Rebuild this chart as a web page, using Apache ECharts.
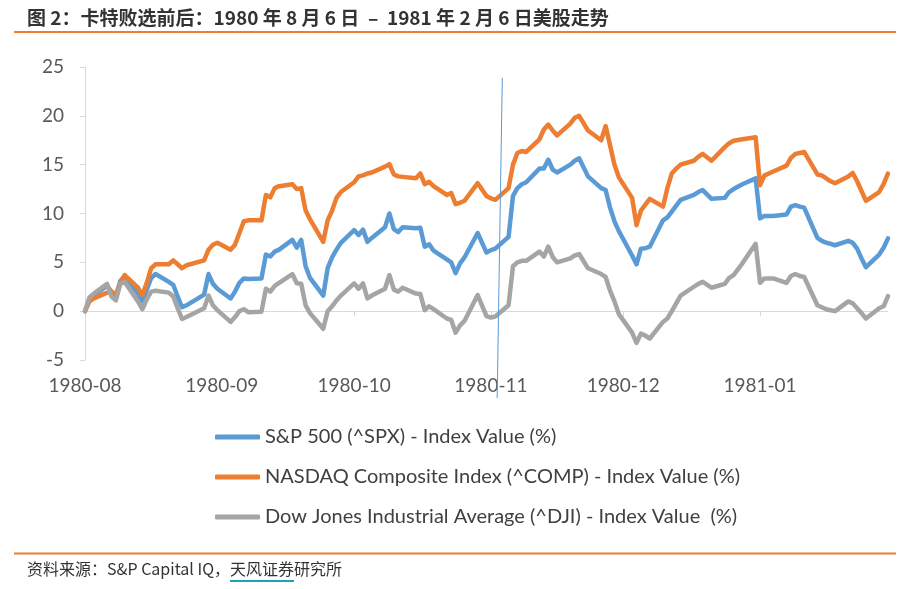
<!DOCTYPE html>
<html>
<head>
<meta charset="utf-8">
<script src="https://cdn.jsdelivr.net/npm/echarts@6/dist/echarts.min.js"></script>
<style>
html,body{margin:0;padding:0;background:#ffffff;}
#chart{width:903px;height:589px;}
</style>
</head>
<body>
<div id="chart"></div>
<script>
// ---- data (trading days, % change vs 1980-08-06) ----
const dates = [
  '1980-08-06','1980-08-07','1980-08-08','1980-08-11','1980-08-12','1980-08-13','1980-08-14','1980-08-15',
  '1980-08-18','1980-08-19','1980-08-20','1980-08-21','1980-08-22','1980-08-25','1980-08-26','1980-08-27',
  '1980-08-28','1980-08-29',
  '1980-09-02','1980-09-03','1980-09-04','1980-09-05','1980-09-08','1980-09-09','1980-09-10','1980-09-11',
  '1980-09-12','1980-09-15','1980-09-16','1980-09-17','1980-09-18','1980-09-19','1980-09-22','1980-09-23',
  '1980-09-24','1980-09-25','1980-09-26','1980-09-29','1980-09-30',
  '1980-10-01','1980-10-02','1980-10-03','1980-10-06','1980-10-07','1980-10-08','1980-10-09','1980-10-10',
  '1980-10-13','1980-10-14','1980-10-15','1980-10-16','1980-10-17','1980-10-20','1980-10-21','1980-10-22',
  '1980-10-23','1980-10-24','1980-10-27','1980-10-28','1980-10-29','1980-10-30','1980-10-31',
  '1980-11-03','1980-11-05','1980-11-06','1980-11-07','1980-11-10','1980-11-11','1980-11-12','1980-11-13',
  '1980-11-14','1980-11-17','1980-11-18','1980-11-19','1980-11-20','1980-11-21','1980-11-24','1980-11-25',
  '1980-11-26','1980-11-28',
  '1980-12-01','1980-12-02','1980-12-03','1980-12-04','1980-12-05','1980-12-08','1980-12-09','1980-12-10',
  '1980-12-11','1980-12-12','1980-12-15','1980-12-16','1980-12-17','1980-12-18','1980-12-19','1980-12-22',
  '1980-12-23','1980-12-24','1980-12-26','1980-12-29','1980-12-30','1980-12-31',
  '1981-01-02','1981-01-05','1981-01-06','1981-01-07','1981-01-08','1981-01-09','1981-01-12','1981-01-13',
  '1981-01-14','1981-01-15','1981-01-16','1981-01-19','1981-01-20','1981-01-21','1981-01-22','1981-01-23',
  '1981-01-26','1981-01-27','1981-01-28','1981-01-29','1981-01-30',
  '1981-02-02','1981-02-03','1981-02-04'
];

const spx = [
  0, 1.2, 1.6, 2.6, 2.0, 1.4, 3.1, 3.6, 1.8, 1.0, 2.2, 3.4, 3.8, 3.0, 2.7, 1.5, 0.4, 0.6,
  1.7, 3.8, 2.8, 2.3, 1.3, 2.0, 2.9, 3.35, 3.3, 3.35, 5.8, 5.6, 6.1, 6.3, 7.3, 6.5, 7.3, 4.6, 3.4, 1.6, 4.4,
  5.5, 6.3, 7.0, 8.3, 7.8, 8.35, 7.1, 7.5, 8.6, 10.0, 8.4, 8.1, 8.6, 8.5, 8.55, 6.6, 6.85, 6.2, 5.3, 5.0, 3.9, 4.9, 5.5,
  8.0, 6.0, 6.25, 6.4, 7.6, 11.8, 12.6, 13.0, 13.2, 14.6, 14.6, 15.5, 14.5, 14.2, 15.0, 15.4, 15.65, 13.8,
  12.6, 12.4, 10.6, 9.2, 8.2, 5.7, 4.8, 6.4, 6.45, 6.6, 9.3, 9.6, 10.2, 10.8, 11.4, 11.9, 12.2, 12.4, 11.5, 11.6, 12.2, 12.5,
  13.0, 13.6, 9.5, 9.75, 9.75, 9.75, 9.9, 10.7, 10.85, 10.7, 10.6, 7.5, 7.2, 7.0, 6.9, 6.75, 7.2, 7.0, 6.4, 5.4, 4.5,
  5.8, 6.5, 7.45
];

const comp = [
  0, 1.0, 1.3, 1.9, 2.0, 1.7, 2.9, 3.7, 2.4, 1.65, 2.9, 4.4, 4.8, 4.8, 5.2, 4.8, 4.4, 4.7,
  5.2, 6.3, 6.8, 7.0, 6.3, 6.8, 8.0, 9.2, 9.3, 9.3, 11.9, 11.65, 12.6, 12.8, 13.0, 12.5, 12.6, 10.3, 9.4, 7.1, 9.3,
  10.3, 11.6, 12.2, 13.2, 13.8, 13.9, 14.1, 14.2, 14.8, 15.05, 14.0, 13.8, 13.75, 13.6, 14.1, 13.0, 13.25, 12.8, 11.9, 12.1, 10.95, 11.1, 11.3,
  13.1, 11.8, 11.55, 11.4, 12.6, 15.0, 16.2, 16.4, 16.3, 17.6, 18.6, 19.1, 18.5, 18.0, 19.2, 19.8, 20.0, 18.5,
  17.5, 18.95, 17.0, 15.0, 13.7, 11.6, 8.8, 10.3, 10.9, 11.5, 10.7, 12.6, 14.1, 14.6, 15.0, 15.4, 15.8, 16.1, 15.4, 16.8, 17.2, 17.45,
  17.6, 17.8, 12.9, 13.9, 14.1, 14.3, 14.9, 15.7, 16.1, 16.2, 16.3, 14.0, 13.9, 13.6, 13.3, 13.1, 13.8, 14.15, 13.3, 12.3, 11.3,
  12.2, 13.0, 14.1
];

const dji = [
  0, 1.4, 1.8, 2.8, 1.5, 1.1, 2.8, 3.0, 1.0, 0.2, 1.2, 2.0, 2.1, 1.9, 1.5, 0.3, -0.8, -0.6,
  0.3, 1.6, 0.6, 0.1, -1.1, -0.6, 0.0, 0.2, -0.1, -0.05, 2.3, 2.0, 2.6, 2.9, 3.8, 2.85, 2.8, 0.6, -0.2, -1.8, 0.0,
  0.5, 1.1, 1.6, 2.85, 2.3, 2.85, 1.3, 1.6, 2.3, 3.7, 2.2, 2.0, 2.4, 1.8, 1.75, 0.1, 0.5, 0.2, -0.75, -0.9, -2.2, -1.45, -1.0,
  1.65, -0.5, -0.65, -0.55, 0.6, 4.6, 5.0, 5.15, 5.15, 6.1, 5.6, 6.6, 5.55, 5.0, 5.4, 5.7, 5.85, 4.4,
  3.8, 3.5, 2.1, 1.0, -0.3, -2.2, -3.25, -2.3, -2.5, -2.8, -1.1, -0.75, 0.0, 0.8, 1.6, 2.5, 2.8, 3.0, 2.4, 2.8, 3.4, 3.7,
  4.9, 6.9, 2.9, 3.35, 3.35, 3.35, 2.9, 3.6, 3.8, 3.6, 3.5, 0.6, 0.4, 0.2, 0.1, 0.0, 1.0, 0.8, 0.3, -0.2, -0.75,
  0.3, 0.5, 1.55
];

const seriesNames = [
  'S&P 500 (^SPX) - Index Value (%)',
  'NASDAQ Composite Index (^COMP) - Index Value (%)',
  'Dow Jones Industrial Average (^DJI) - Index Value  (%)'
];
const seriesColors = ['#5B9BD5', '#ED7D31', '#A5A5A5'];

const tickDates = ['1980-08-06','1980-09-06','1980-10-06','1980-11-06','1980-12-06','1981-01-06'];
const tickLabels = ['1980-08','1980-09','1980-10','1980-11','1980-12','1981-01'];
const axisStart = '1980-08-06';
const axisEnd = '1981-02-04';
const yMin = -5, yMax = 25, yStep = 5;

// annotation (hand-drawn vertical line): [date, hour, value]
const noteTop = ['1980-11-08', 14, 23.9];
const noteBottom = ['1980-11-07', 10, -8.9];

const titleText = '图 2：卡特败选前后：1980 年 8 月 6 日  –  1981 年 2 月 6 日美股走势';
const sourcePrefix = '资料来源：S&P Capital IQ，';
const sourceLinked = '天风证券';
const sourceSuffix = '研究所';

// dates -> day numbers (days since epoch, UTC) for a linear date axis
function dayNum(s, h) {
  const p = s.split('-').map(Number);
  return Date.UTC(p[0], p[1] - 1, p[2], h || 0) / 86400000;
}

const days = dates.map(d => dayNum(d));
const tickDays = tickDates.map(d => dayNum(d));
function pairs(vals) { return vals.map((v, i) => [days[i], v]); }

const footFont = '16px "Noto Sans CJK SC"';
const mctx = document.createElement('canvas').getContext('2d');
mctx.font = footFont;
const prefixW = mctx.measureText(sourcePrefix).width;
const linkedW = mctx.measureText(sourceLinked).width;
const footLeft = 27;

const chart = echarts.init(document.getElementById('chart'), null, {renderer: 'canvas'});

const axisFont = 'Lato';
const option = {
  backgroundColor: '#ffffff',
  animation: false,
  title: {
    text: titleText,
    left: 27,
    top: 8,
    padding: 0,
    textStyle: {
      fontFamily: 'Noto Sans CJK SC',
      fontSize: 19,
      fontWeight: 'bold',
      color: '#333333'
    }
  },
  grid: {
    left: 85,
    right: 15,
    top: 67,
    bottom: 229,
    containLabel: false
  },
  legend: {
    orient: 'vertical',
    left: 210,
    top: 421,
    icon: 'roundRect',
    itemWidth: 45,
    itemHeight: 5,
    itemGap: 18,
    textStyle: {
      fontFamily: axisFont,
      fontSize: 20,
      color: '#404040',
      lineHeight: 22
    },
    data: seriesNames
  },
  xAxis: {
    type: 'value',
    min: dayNum(axisStart),
    max: dayNum(axisEnd),
    axisLine: {
      show: true,
      onZero: true,
      lineStyle: {color: '#D9D9D9', width: 1}
    },
    axisTick: {
      show: true,
      length: 5,
      customValues: tickDays,
      lineStyle: {color: '#D9D9D9'}
    },
    axisLabel: {
      customValues: tickDays,
      margin: 16,
      fontFamily: axisFont,
      fontSize: 19,
      color: '#595959',
      formatter: function (val) {
        let best = 0, bd = Infinity;
        tickDays.forEach((t, i) => { const d = Math.abs(t - val); if (d < bd) { bd = d; best = i; } });
        return tickLabels[best];
      }
    },
    splitLine: {show: false}
  },
  yAxis: {
    type: 'value',
    min: yMin,
    max: yMax,
    interval: yStep,
    axisLine: {show: true, lineStyle: {color: '#D9D9D9', width: 1}},
    axisTick: {show: true, length: 5, lineStyle: {color: '#D9D9D9'}},
    axisLabel: {
      margin: 21,
      fontFamily: axisFont,
      fontSize: 19,
      color: '#595959'
    },
    splitLine: {show: false}
  },
  series: [spx, comp, dji].map((vals, i) => ({
    name: seriesNames[i],
    type: 'line',
    data: pairs(vals),
    showSymbol: false,
    symbol: 'none',
    smooth: false,
    color: seriesColors[i],
    lineStyle: {width: 4.5, color: seriesColors[i], cap: 'round', join: 'round'},
    itemStyle: {color: seriesColors[i]},
    emphasis: {disabled: true}
  })),
  graphic: [
    {type: 'line', shape: {x1: 14, y1: 32, x2: 896, y2: 32}, style: {stroke: '#ED7D31', lineWidth: 2}, silent: true},
    {type: 'line', shape: {x1: 14, y1: 553.5, x2: 896, y2: 553.5}, style: {stroke: '#ED7D31', lineWidth: 2}, silent: true},
    {type: 'text', left: footLeft, top: 561, style: {text: sourcePrefix + sourceLinked + sourceSuffix, font: footFont, fill: '#333333'}, silent: true},
    {type: 'line', shape: {x1: footLeft + prefixW, y1: 581, x2: footLeft + prefixW + linkedW, y2: 581}, style: {stroke: '#1CA3B5', lineWidth: 2}, silent: true}
  ]
};

chart.setOption(option);

// annotation line through the axes' own scales
const pTop = chart.convertToPixel({xAxisIndex: 0, yAxisIndex: 0}, [dayNum(noteTop[0], noteTop[1]), noteTop[2]]);
const pBot = chart.convertToPixel({xAxisIndex: 0, yAxisIndex: 0}, [dayNum(noteBottom[0], noteBottom[1]), noteBottom[2]]);
option.graphic.push({
  type: 'line', silent: true, z: 10,
  shape: {x1: pTop[0], y1: pTop[1], x2: pBot[0], y2: pBot[1]},
  style: {stroke: '#5B9BD5', lineWidth: 1}
});
chart.setOption({graphic: option.graphic});
</script>
</body>
</html>
